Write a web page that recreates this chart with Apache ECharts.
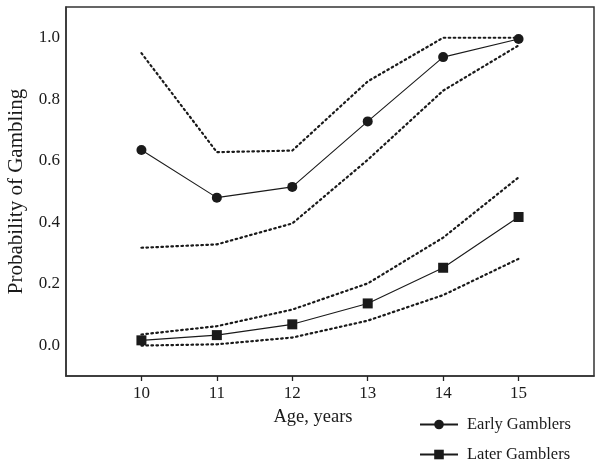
<!DOCTYPE html>
<html>
<head>
<meta charset="utf-8">
<script src="https://cdn.jsdelivr.net/npm/echarts@6/dist/echarts.min.js"></script>
<style>html,body{margin:0;padding:0;background:#fff}#c{width:602px;height:467px}</style>
</head>
<body>
<div id="c"></div>
<script>
var ages = [10, 11, 12, 13, 14, 15];
var earlyProb  = [0.635, 0.480, 0.515, 0.728, 0.937, 0.996];
var earlyUpper = [0.950, 0.628, 0.633, 0.858, 1.000, 1.000];
var earlyLower = [0.317, 0.328, 0.396, 0.603, 0.828, 0.975];
var laterProb  = [0.016, 0.033, 0.068, 0.136, 0.252, 0.417];
var laterUpper = [0.035, 0.062, 0.116, 0.201, 0.350, 0.546];
var laterLower = [-0.001, 0.003, 0.025, 0.080, 0.163, 0.281];
var yTicks = [0.0, 0.2, 0.4, 0.6, 0.8, 1.0];

function pairs(vals) { return ages.map(function (a, i) { return [a, vals[i]]; }); }

var ink = '#1a1a1a';
var font = 'Liberation Serif';
var dotted = { color: ink, width: 2.2, type: [1.6, 3.4], cap: 'round' };
var legendText = { fontFamily: font, fontSize: 16.5, color: ink, padding: [0, 0, 0, 4] };
var yMin = -0.1;

var chart = echarts.init(document.getElementById('c'), null, { renderer: 'canvas' });
chart.setOption({
  animation: false,
  backgroundColor: '#fff',
  grid: { left: 66, top: 7, right: 8, bottom: 91, show: true, borderColor: '#333', borderWidth: 1.5,
    backgroundColor: 'transparent', containLabel: false, outerBoundsMode: 'none' },
  legend: [
    { data: ['Early Gamblers'], left: 419, top: 416, itemWidth: 38, itemHeight: 12, padding: 0, textStyle: legendText },
    { data: ['Later Gamblers'], left: 419, top: 446, itemWidth: 38, itemHeight: 12, padding: 0, textStyle: legendText }
  ],
  xAxis: {
    type: 'value', min: 9, max: 16, interval: 1, position: 'bottom',
    name: 'Age, years', nameLocation: 'middle', nameGap: 32,
    nameTextStyle: { fontFamily: font, fontSize: 18.5, color: ink, padding: [0, 34, 0, 0] },
    axisLine: { show: true, onZero: true, onZeroAxisIndex: 1, lineStyle: { color: '#333', width: 1.5 } },
    splitLine: { show: false },
    axisTick: { show: true, inside: false, length: 5, lineStyle: { color: '#222', width: 1.3 }, customValues: ages },
    axisLabel: { fontFamily: font, fontSize: 17, color: ink, margin: 9, customValues: ages }
  },
  yAxis: [
    {
      type: 'value', min: yMin, max: 1.1,
      name: 'Probability of Gambling', nameLocation: 'middle', nameGap: 39,
      nameTextStyle: { fontFamily: font, fontSize: 21, color: ink },
      axisLine: { show: true, onZero: false, lineStyle: { color: '#333', width: 1.5 } },
      splitLine: { show: false },
      axisTick: { show: false },
      axisLabel: { fontFamily: font, fontSize: 17, color: ink, margin: 6, customValues: yTicks,
        formatter: function (v) { return v.toFixed(1); } }
    },
    {
      type: 'value', min: 0, max: 1, show: false,
      axisLine: { show: false, onZero: false }, splitLine: { show: false },
      axisTick: { show: false }, axisLabel: { show: false }
    }
  ],
  series: [
    { name: 'Early upper', type: 'line', data: pairs(earlyUpper), symbol: 'none', lineStyle: dotted, silent: true },
    { name: 'Early lower', type: 'line', data: pairs(earlyLower), symbol: 'none', lineStyle: dotted, silent: true },
    { name: 'Later upper', type: 'line', data: pairs(laterUpper), symbol: 'none', lineStyle: dotted, silent: true },
    { name: 'Later lower', type: 'line', data: pairs(laterLower), symbol: 'none', lineStyle: dotted, silent: true },
    { name: 'Early Gamblers', type: 'line', data: pairs(earlyProb), symbol: 'circle', symbolSize: 10,
      itemStyle: { color: ink }, lineStyle: { color: ink, width: 1.1 } },
    { name: 'Later Gamblers', type: 'line', data: pairs(laterProb), symbol: 'rect', symbolSize: 10,
      itemStyle: { color: ink }, lineStyle: { color: ink, width: 1.1 } }
  ]
});
</script>
</body>
</html>
